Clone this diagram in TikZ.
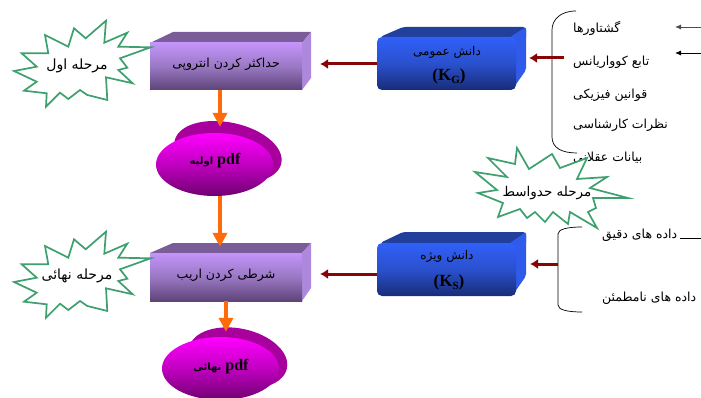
\documentclass[tikz,border=0pt]{standalone}
\usepackage{fontspec}
\usetikzlibrary{arrows.meta,shapes.geometric}
\TeXXeTstate=1
\newfontfamily\arabicfont[Script=Arabic]{DejaVu Sans}
\newfontfamily\latinb{Liberation Serif}[BoldFont={Liberation Serif Bold}]
\newcommand{\fa}[1]{{\arabicfont\beginR #1\endR}}
\newcommand{\kgsub}[1]{\raisebox{-3.5pt}{\fontsize{11}{12}\selectfont #1}}
\definecolor{purpT}{HTML}{C394FA}
\definecolor{purpM}{HTML}{9A78C4}
\definecolor{purpB}{HTML}{5E4478}
\definecolor{purpTop}{HTML}{7A5C98}
\definecolor{purpSide}{HTML}{AE88DC}
\definecolor{blueT}{HTML}{3060FA}
\definecolor{blueM}{HTML}{2A50CC}
\definecolor{blueB}{HTML}{182C78}
\definecolor{blueTop}{HTML}{20409C}
\definecolor{blueSide}{HTML}{2F5AEA}
\definecolor{magT}{HTML}{FF00FF}
\definecolor{magM}{HTML}{C000C0}
\definecolor{magB}{HTML}{700070}
\definecolor{magBack}{HTML}{A8009C}
\definecolor{starc}{HTML}{3DA06E}
\definecolor{darkred}{HTML}{870505}
\definecolor{orangec}{HTML}{FF6A0A}
\tikzset{
  x=1pt,y=-1pt,
  purplebox/.style={rectangle,minimum width=152pt,minimum height=47pt,inner sep=0pt,
     top color=purpT,bottom color=purpB,middle color=purpM,shading angle=0},
  bluebox/.style={rectangle,rounded corners=5pt,minimum width=139pt,minimum height=53pt,inner sep=0pt,
     top color=blueT,bottom color=blueB,middle color=blueM},
  disc/.style={ellipse,minimum width=117pt,minimum height=63pt,inner sep=0pt,
     top color=magT,bottom color=magB,middle color=magM},
  flow/.style={orangec,line width=4.5pt,-{Triangle[width=14pt,length=14pt]}},
  feed/.style={darkred,line width=3pt,-{Latex[width=10pt,length=8pt]}},
  thin/.style={black,line width=0.7pt},
  tick/.style={line width=0.8pt,-{Latex[width=5pt,length=6pt]}},
  starshape/.style={draw=starc,line width=1.7pt,fill=white,line join=miter},
  lbl/.style={font=\fontsize{12.5}{14}\selectfont,inner sep=0pt,text=black},
  listlbl/.style={lbl,anchor=west},
  kb/.style={font=\latinb\bfseries\fontsize{17}{19}\selectfont,inner sep=0pt},
}
\newcommand{\burst}[2]{%
 \draw[starshape,shift={(#1,#2)}] (45,35)--(68.3,46.7)--(74,28.3)--(85.7,38.3)--(106,20.7)--(104.3,42.7)--(127.3,32.7)--(118.3,46.7)--(150.7,47.3)--(120,58.3)--(127.3,67.7)--(118.3,70)--(132.7,83.3)--(106,77.3)--(107.3,100)--(87.3,95)--(80,90)--(68.3,99)--(60,92.7)--(46,106.7)--(46.7,93.3)--(24,90.7)--(36.7,81.7)--(14,71)--(36.7,66.7)--(21.7,53.3)--(48.3,53.3)--cycle;}
\begin{document}
\begin{tikzpicture}
\useasboundingbox (0,0) rectangle (701,398);
\fill[white] (0,0) rectangle (701,398);

% right-hand lists
\node[listlbl] (t1) at (573,28) {\fa{گشتاورها}};
\node[listlbl] (t2) at (573,62) {\fa{تابع کوواریانس}};
\node[listlbl] (t3) at (573,95) {\fa{قوانین فیزیکی}};
\node[listlbl] (t4) at (573,125) {\fa{نظرات کارشناسی}};
\node[listlbl] (t5) at (573,158) {\fa{بیانات عقلانی}};
\node[listlbl] (t6) at (602,235) {\fa{داده های دقیق}};
\node[listlbl] (t7) at (602,298) {\fa{داده های نامطمئن}};

\coordinate (br1a) at (576,11);
\coordinate (br1b) at (552,30);
\coordinate (br1c) at (552,137);
\coordinate (br1d) at (577,153);
\draw[thin] (br1a) .. controls (560,11) and (552,20) .. (br1b) -- (br1c) .. controls (552,148) and (562,153) .. (br1d);
\coordinate (br2a) at (582,227);
\coordinate (br2b) at (558,234);
\coordinate (br2c) at (558,305);
\coordinate (br2d) at (582,312);
\draw[thin] (br2a) .. controls (568,227) and (558,229) .. (br2b) -- (br2c) .. controls (558,310) and (568,312) .. (br2d);

% purple boxes
\fill[purpTop] (150,43)--(173,32)--(311,32)--(302,43)--cycle;
\fill[purpSide] (302,43)--(311,32)--(311,78)--(302,90)--cycle;
\node[purplebox] (b1) at (226,66.5) {};
\node[lbl] (b1t) at (226,64) {\fa{حداکثر کردن انتروپی}};
\fill[purpTop] (150,253)--(173,243)--(311,243)--(302,253)--cycle;
\fill[purpSide] (302,253)--(311,243)--(311,288)--(302,301)--cycle;
\node[purplebox,minimum height=48pt] (b2) at (226,277) {};
\node[lbl] (b2t) at (226,275) {\fa{شرطی کردن اریب}};

% blue boxes
\fill[blueTop,rounded corners=3pt] (380,37)--(403,27)--(526,27)--(526,40)--(516,40)--cycle;
\fill[blueSide,rounded corners=2pt] (510,37)--(526,27)--(526,70)--(512,90)--cycle;
\node[bluebox] (k1) at (446.5,63.5) {};
\node[lbl,font=\fontsize{12}{14}\selectfont] (k1t) at (447,52) {\fa{دانش عمومی}};
\node[kb] (k1s) at (449,76) {(K\kgsub{G})};
\fill[blueTop,rounded corners=3pt] (380,243)--(403,232)--(526,232)--(526,246)--(516,246)--cycle;
\fill[blueSide,rounded corners=2pt] (510,243)--(526,232)--(526,276)--(512,296)--cycle;
\node[bluebox] (k2) at (446.5,269.5) {};
\node[lbl,font=\fontsize{12}{14}\selectfont] (k2t) at (447,256) {\fa{دانش ویژه}};
\node[kb] (k2s) at (449,282) {(K\kgsub{S})};

% ellipses
\fill[magBack,rotate around={-12:(228,152)}] (228,152) ellipse [x radius=54.5,y radius=29.5];
\node[disc] (e1) at (214.5,164.5) {};
\node[font=\fontsize{10}{12}\selectfont,inner sep=0pt] (e1t) at (215,161) {\fa{\latinb\bfseries\fontsize{16}{17}\selectfont pdf\ \arabicfont\bfseries\fontsize{10}{12}\selectfont اولیه}};
\fill[magBack,rotate around={-12:(238,358)}] (238,358) ellipse [x radius=50,y radius=29.5];
\node[disc] (e2) at (220.5,368.5) {};
\node[font=\fontsize{10}{12}\selectfont,inner sep=0pt] (e2t) at (221,367) {\fa{\latinb\bfseries\fontsize{16}{17}\selectfont pdf\ \arabicfont\bfseries\fontsize{10}{12}\selectfont نهائی}};

% bursts
\burst{0}{0}
\node[lbl,font=\fontsize{14}{16}\selectfont] (s1) at (77,66) {\fa{مرحله اول}};
\burst{0}{211}
\node[lbl,font=\fontsize{14}{16}\selectfont] (s2) at (77,276) {\fa{مرحله نهائی}};
\draw[starshape] (517,148)--(529,169)--(552,154)--(560,168)--(587,158)--(577,179)--(607,177)--(590,188)--(628,198)--(593,198)--(596,208)--(588,212)--(597,228)--(570,212)--(568,224)--(553,212)--(545,222)--(535,212)--(527,218)--(520,209)--(498,217)--(503,203)--(478,193)--(497,190)--(475,172)--(507,177)--(488,158)--(515,164)--cycle;
\node[lbl,font=\fontsize{13.5}{15}\selectfont] (s3) at (547,193) {\fa{مرحله حدواسط}};

% connectors
\draw[flow,shorten >=6pt] (b1.south -| 220,90) -- (e1.north -| 220,0);
\draw[flow,shorten >=6pt] (e1.south -| 220,0) -- (b2.north -| 220,0);
\draw[flow,shorten >=5pt] (b2.south -| 226,0) -- (e2.north -| 226,0);
\coordinate (a1) at (320,64);
\coordinate (a2) at (320,274);
\draw[feed] (k1.west |- a1) -- (a1);
\draw[feed] (k2.west |- a2) -- (a2);
\coordinate (f1) at (564,58);
\coordinate (f1e) at (529,58);
\coordinate (f2) at (558,264);
\coordinate (f2e) at (530,264);
\draw[feed] (f1) -- (f1e);
\draw[feed] (f2) -- (f2e);
\coordinate (g1) at (701,27);
\coordinate (g1e) at (675,27);
\coordinate (g2) at (701,53);
\coordinate (g2e) at (675,53);
\draw[tick,black!70] (g1) -- (g1e);
\draw[tick] (g2) -- (g2e);
\coordinate (h1) at (680,238);
\coordinate (h2) at (701,238);
\draw[thin] (h1) -- (h2);
\end{tikzpicture}
\end{document}
